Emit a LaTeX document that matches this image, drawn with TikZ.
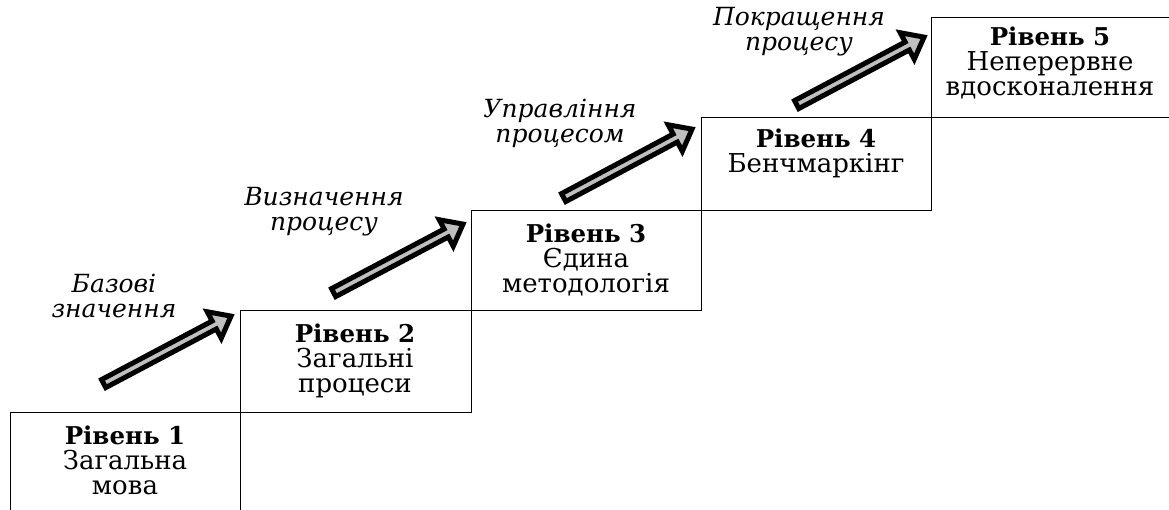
\documentclass[tikz,border=0pt]{standalone}
\usepackage{fontspec}
\setmainfont{DejaVu Serif}
\usetikzlibrary{calc}
\definecolor{arrgray}{HTML}{BFBFBF}
\newcommand\bigarrow[2]{%
  \coordinate (#1s) at ($(#1)!3pt!(#2)$);
  \coordinate (#1e) at ($(#2)!4.5pt!(#1)$);
  \coordinate (#1b) at ($(#1e)!19pt!(#1s)$);
  \draw[arrsty] ($(#1s)!4.5pt!90:(#1e)$) -- ($(#1b)!4.5pt!90:(#1e)$)
    -- ($(#1b)!15pt!90:(#1e)$) -- (#1e) -- ($(#1b)!15pt!-90:(#1e)$)
    -- ($(#1b)!4.5pt!-90:(#1e)$) -- ($(#1s)!4.5pt!-90:(#1e)$) -- cycle;}
\newcommand\lev[1]{{\fontsize{24.5}{25}\selectfont\bfseries Рівень #1}}
\begin{document}
\begin{tikzpicture}[x=1pt,y=-1pt,
  box/.style={draw, line width=1.2pt, inner sep=0pt, anchor=north west},
  boxtext/.style={anchor=north, align=center, inner sep=0pt,
    font=\fontsize{26}{25}\selectfont},
  lbl/.style={anchor=north, align=center, inner sep=0pt,
    font=\fontsize{25}{25}\selectfont\itshape},
  arrsty/.style={draw=black, fill=arrgray, line width=5pt, line join=miter}]
\useasboundingbox (0,0) rectangle (1169,510);
\clip (0,0) rectangle (1169,510);
% boxes
\node[box, minimum width=230pt, minimum height=100pt] (b1) at (10,412) {};
\node[box, minimum width=230.5pt, minimum height=102pt] (b2) at (240,310) {};
\node[box, minimum width=230.5pt, minimum height=100pt] (b3) at (470.5,210) {};
\node[box, minimum width=229.5pt, minimum height=93pt] (b4) at (701,117) {};
\node[box, minimum width=240pt, minimum height=100pt] (b5) at (930.5,17) {};
% box texts
\node[boxtext] (x1) at (125,426) {\lev{1}\\Загальна\\мова};
\node[boxtext] (x2) at (355,324) {\lev{2}\\Загальні\\процеси};
\node[boxtext] (x3) at (586,224) {\lev{3}\\Єдина\\методологія};
\node[boxtext] (x4) at (816,129) {\lev{4}\\Бенчмаркінг};
\node[boxtext] (x5) at (1050,27) {\lev{5}\\Неперервне\\вдосконалення};
% labels
\node[lbl] (n1) at (114,274) {Базові\\значення};
\node[lbl] (n2) at (324,187) {Визначення\\процесу};
\node[lbl] (n3) at (560,99) {Управління\\процесом};
\node[lbl] (n4) at (799,7) {Покращення\\процесу};
% arrows
\coordinate (t1) at (101,385); \coordinate (h1) at (235,314);
\coordinate (t2) at (331,294); \coordinate (h2) at (467,222);
\coordinate (t3) at (561,199); \coordinate (h3) at (696,127);
\coordinate (t4) at (794,106); \coordinate (h4) at (928,35);
\bigarrow{t1}{h1}
\bigarrow{t2}{h2}
\bigarrow{t3}{h3}
\bigarrow{t4}{h4}
\end{tikzpicture}
\end{document}
